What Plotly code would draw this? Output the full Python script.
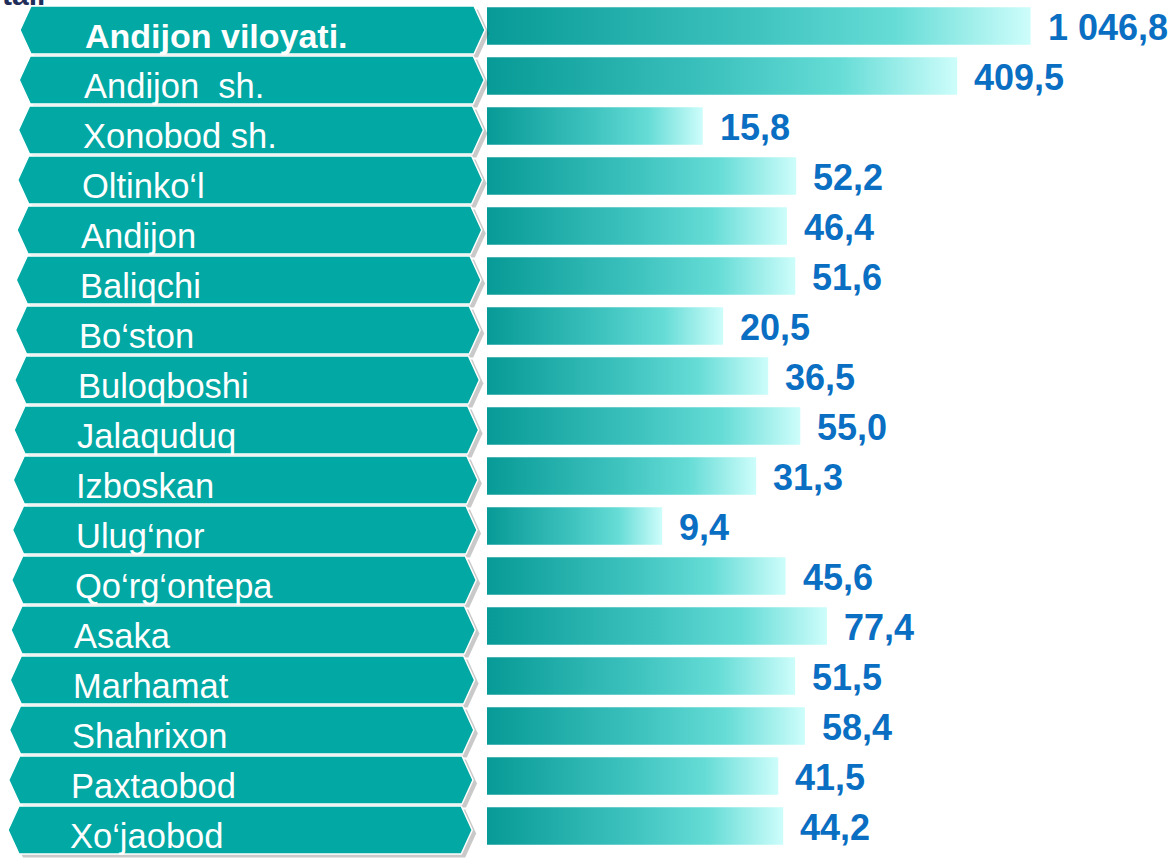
import math
import plotly.graph_objects as go

# ---- data ----
regions = [
    "Andijon viloyati.", "Andijon  sh.", "Xonobod sh.", "Oltinko‘l", "Andijon",
    "Baliqchi", "Bo‘ston", "Buloqboshi", "Jalaquduq", "Izboskan", "Ulug‘nor",
    "Qo‘rg‘ontepa", "Asaka", "Marhamat", "Shahrixon", "Paxtaobod", "Xo‘jaobod",
]
values = [1046.8, 409.5, 15.8, 52.2, 46.4, 51.6, 20.5, 36.5, 55.0, 31.3, 9.4,
          45.6, 77.4, 51.5, 58.4, 41.5, 44.2]

W, H = 1172, 861
X0 = 487          # pixel where the bar axis starts (value 1)
PX_PER_DEC = 180  # pixels per decade on the log axis

BAR_SCALE = [[0.0, "#079A96"], [0.5, "#40C4C0"], [0.75, "#66DCD6"], [1.0, "#CDFDFB"]]
BOX_COLOR = "#02A8A3"
VAL_COLOR = "#0A6FC2"
FONT = "Arial, Liberation Sans, sans-serif"


def fmt(v):
    s = f"{v:,.1f}"
    return s.replace(",", " ").replace(".", ",")


fig = go.Figure()
half = 0.375
for i, v in enumerate(values):
    fig.add_trace(go.Scatter(
        x=[1, v, v, 1, 1],
        y=[i - half, i - half, i + half, i + half, i - half],
        mode="lines", line=dict(width=0), fill="toself",
        fillgradient=dict(type="horizontal", colorscale=BAR_SCALE),
        hoverinfo="skip", showlegend=False,
    ))

shapes = []
annotations = []


def px(x):
    return x / W


for i, name in enumerate(regions):
    xl = 20 - 0.75 * i
    xr = 485 - 0.8 * i
    d = 11
    top, bot = i - 0.40, i + 0.56
    mid = (top + bot) / 2

    def hexpath(dx=0.0, dy=0.0):
        pts = [(xl + dx, mid + dy), (xl + d + dx, top + dy), (xr - d + dx, top + dy),
               (xr + dx, mid + dy), (xr - d + dx, bot + dy), (xl + d + dx, bot + dy)]
        return "M " + " L ".join(f"{px(a):.5f},{b:.4f}" for a, b in pts) + " Z"

    shapes.append(dict(type="path", xref="paper", yref="y", path=hexpath(4, 0.07),
                       fillcolor="rgba(60,60,60,0.28)", line=dict(width=0)))
    shapes.append(dict(type="path", xref="paper", yref="y", path=hexpath(),
                       fillcolor=BOX_COLOR, line=dict(color="white", width=1.5)))

    annotations.append(dict(
        x=px(83 - 0.95 * i), y=i + 0.2, xref="paper", yref="y",
        xanchor="left", yanchor="middle", showarrow=False,
        text=f"<b>{name}</b>" if i == 0 else name,
        font=dict(family=FONT, size=34.5 if i else 34, color="white"),
    ))

for i, v in enumerate(values):
    annotations.append(dict(
        x=math.log10(v), y=i, xref="x", yref="y", xanchor="left", yanchor="middle",
        xshift=15, yshift=-1, showarrow=False, text=f"<b>{fmt(v)}</b>",
        font=dict(family=FONT, size=36, color=VAL_COLOR),
    ))

# clipped title fragment at top-left
annotations.append(dict(x=px(47), y=1.0, xref="paper", yref="paper", xanchor="right",
                        yanchor="bottom", yshift=-13, showarrow=False, text="<b>tali</b>",
                        font=dict(family=FONT, size=30, color="#1F2D5A")))

fig.update_layout(
    width=W, height=H,
    margin=dict(l=0, r=0, t=0, b=0),
    paper_bgcolor="white", plot_bgcolor="white",
    xaxis=dict(type="log", domain=[X0 / W, 1], range=[0, (W - X0) / PX_PER_DEC],
               visible=False, showgrid=False, zeroline=False),
    yaxis=dict(range=[16.7, -0.52], visible=False, showgrid=False, zeroline=False),
    shapes=shapes, annotations=annotations, showlegend=False,
)

fig.write_html(
    "out.html",
    config={"displayModeBar": False},
    post_script="document.body.style.margin='0';document.body.style.padding='0';"
                "document.body.style.overflow='hidden';",
)
